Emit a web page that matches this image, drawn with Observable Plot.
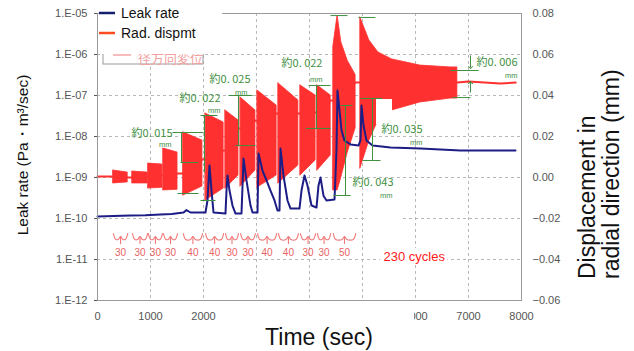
<!DOCTYPE html>
<html><head><meta charset="utf-8">
<script src="https://cdn.jsdelivr.net/npm/d3@7"></script>
<script src="https://cdn.jsdelivr.net/npm/@observablehq/plot@0.6"></script>
<style>body{margin:0;background:#fff;}#chart{width:634px;height:351px;}</style>
</head><body><div id="chart"></div>
<script>
// ---------- data ----------
const timeTicks = [0, 1000, 2000, 3000, 4000, 5000, 6000, 7000, 8000];
const leakTicks = [1e-12, 1e-11, 1e-10, 1e-9, 1e-8, 1e-7, 1e-6, 1e-5];
const dispTicks = [-0.06, -0.04, -0.02, 0, 0.02, 0.04, 0.06, 0.08];

// leak rate [time s, Pa·m3/s]
const leakRate = [
  [0,1.12e-10],[300,1.15e-10],[623,1.18e-10],[900,1.2e-10],[1189,1.25e-10],[1400,1.28e-10],
  [1623,1.4e-10],[1679,1.6e-10],[1755,1.4e-10],[2038,1.4e-10],[2075,2.75e-10],[2113,1.96e-9],
  [2151,4.8e-10],[2189,1.4e-10],[2415,1.32e-10],[2434,4.8e-10],[2453,1.12e-9],[2491,4.8e-10],
  [2547,2.07e-10],[2604,1.32e-10],[2717,1.32e-10],[2755,2.9e-9],[2811,8.5e-10],[2887,2.07e-10],
  [2925,1.4e-10],[3019,1.4e-10],[3038,3.85e-9],[3113,1.48e-9],[3189,8.5e-10],[3264,4.8e-10],
  [3340,2.75e-10],[3396,1.57e-10],[3434,1.57e-10],[3453,5.1e-9],[3509,1.12e-9],[3585,2.75e-10],
  [3642,1.75e-10],[3811,1.75e-10],[3849,4.8e-10],[3906,1.12e-9],[3962,6.4e-10],[4038,2.07e-10],
  [4132,1.85e-10],[4170,6.4e-10],[4208,1.0e-9],[4264,3.6e-10],[4321,2.75e-10],[4472,2.9e-10],
  [4509,4.56e-9],[4528,1.32e-7],[4566,4.3e-8],[4604,1.4e-8],[4660,8.0e-9],[4774,6.4e-9],
  [4925,6.0e-9],[4962,8.0e-9],[4981,5.7e-8],[5019,1.85e-8],[5075,8.0e-9],[5189,6.0e-9],
  [5528,5.4e-9],[6094,5.1e-9],[6849,4.56e-9],[7887,4.56e-9]
];

// cyclic loading bursts
const burstStart  = [300, 660, 960, 1245, 1620, 2040, 2415, 2700, 3020, 3415, 3830, 4150, 4450, 4960];
const burstEnd    = [570, 945, 1225, 1510, 1980, 2380, 2660, 2980, 3380, 3790, 4115, 4400, 4870, 6790];
const burstCycles = [30, 30, 30, 30, 40, 40, 30, 30, 40, 40, 30, 30, 50, 230];

// radial displacement envelope [burst, time s, low mm, high mm]
const radEnvelope = [
  [1,300,-0.0029,0.0034],[1,570,-0.0024,0.0024],
  [2,660,-0.0029,0.0029],[2,945,-0.0029,0.0024],
  [3,960,-0.0054,0.0068],[3,1225,-0.0050,0.0063],
  [4,1245,-0.0063,0.0141],[4,1510,-0.0060,0.0122],
  [5,1620,-0.0088,0.0220],[5,1980,-0.0044,0.0180],
  [6,2040,-0.0112,0.0312],[6,2380,-0.0054,0.0268],
  [7,2415,-0.0054,0.0327],[7,2660,0.0010,0.0278],
  [8,2700,-0.0044,0.0390],[8,2980,0.0034,0.0327],
  [9,3020,-0.0049,0.0424],[9,3380,0.0010,0.0351],
  [10,3415,-0.0029,0.0459],[10,3790,0.0059,0.0376],
  [11,3830,0.0010,0.0449],[11,4115,0.0083,0.0400],
  [12,4150,0.0034,0.0449],[12,4400,0.0107,0.0400],
  [13,4450,-0.0063,0.0640],[13,4530,-0.0063,0.0790],[13,4600,0.0000,0.0660],[13,4720,0.0120,0.0570],[13,4870,0.0240,0.0500],
  [14,4960,0.0044,0.0780],[14,5130,0.0180,0.0668],[14,5300,0.0278,0.0610],[14,5560,0.0327,0.0576],
  [14,6090,0.0366,0.0546],[14,6660,0.0385,0.0537],[14,6790,0.0385,0.0537]
];
// radial displacement between bursts [time s, mm]
const radMean = [
  [0,0.0005],[300,0.0005],[570,0.0],[660,0.0],[945,0.0005],[960,0.0005],[1225,0.0010],[1245,0.0010],
  [1510,0.0020],[1620,0.0020],[1980,0.0088],[2040,0.0088],[2380,0.0132],[2415,0.0132],[2660,0.0239],
  [2700,0.0239],[2980,0.0278],[3020,0.0278],[3380,0.0312],[3415,0.0312],[3790,0.0312],[3830,0.0312],
  [4115,0.0317],[4150,0.0317],[4400,0.0376],[4450,0.0376],[4870,0.0463],[4960,0.0463],[6790,0.0463],
  [7000,0.0468],[7300,0.0463],[7600,0.0458],[7890,0.0463]
];

// green amplitude notes [text, time, leak-axis value]
const noteLabels = [
  ["約0. 015",1415,1.18e-8],["約0. 022",2321,8.4e-8],["約0. 025",2887,2.5e-7],["約0. 022",4245,5.9e-7],
  ["約0. 043",5585,7.5e-10],["約0. 035",6132,1.45e-8],["約0. 006",7925,6.4e-7]
];
const noteUnits = [
  [1396,6.2e-9],[2321,4.2e-8],[2830,1.2e-7],[4245,2.5e-7],[5566,3.7e-10],[6132,7.2e-9],[7925,3.0e-7]
];
const noteLinks = [
  [1585,1.25e-8,1585,2.32e-9],[1415,1.25e-8,2000,1.25e-8],[1566,2.32e-9,1906,2.32e-9],[1509,4.07e-10,1906,4.07e-10],
  [2019,3.25e-8,2019,1.32e-9],[1943,3.25e-8,2264,3.25e-8],[1943,2.75e-10,2226,2.75e-10],
  [2660,1e-7,2660,6e-9],[2472,1e-7,2925,1e-7],[2604,6e-9,2981,6e-9],
  [4132,1.75e-7,4132,1.57e-8],[3981,1.75e-7,4396,1.75e-7],[3925,1.57e-8,4396,1.57e-8],
  [4396,8.9e-6,4717,8.9e-6],[4925,8.0e-6,5245,8.0e-6],
  [4679,5.7e-8,4679,3.64e-10],[4453,3.64e-10,4774,3.64e-10],[4585,5.7e-8,4811,5.7e-8],
  [5189,8.45e-8,5189,2.6e-9],[4962,8.45e-8,5377,8.45e-8],[5000,2.6e-9,5340,2.6e-9],
  [6660,4.07e-7,7189,4.07e-7],[6698,8.9e-8,7038,8.9e-8]
];
const noteArrows = [[7038,9.46e-7,7038,4.82e-7],[7038,1.18e-7,7038,2.07e-7]];

// ---------- helpers ----------
const toLeak = d => Math.pow(10, -9 + 50 * d);
const fmtDisp = v => { const d = Math.round((Math.log10(v) + 9) / 50 * 100) / 100;
  return d === 0 ? "0.00" : (d < 0 ? "\u2212" + Math.abs(d).toFixed(2) : d.toFixed(2)); };
const fmtLeak = v => "1.E-" + String(-Math.round(Math.log10(v))).padStart(2, "0");

const RED = "#ff3030", NAVY = "#1d1d86", GREEN = "#3f8f3f", GRID = "#b8b8b8", AX = "#555";

const env = radEnvelope.map(([b, t, lo, hi]) => ({b, t, lo: toLeak(lo), hi: toLeak(hi)}));
const mean = radMean.map(([t, d]) => ({t, v: toLeak(d)}));
const leak = leakRate.map(([t, v]) => ({t, v}));

// brace levels on the leak axis (below the curves)
const bUp = 4.3e-11, bMid = 3.08e-11, bJoin = 3.64e-11, bStem = 2.32e-11, bLab = 1.48e-11;
const braceRows = [], braceStems = [], braceLabels = [];
for (let i = 0; i < 13; i++) {
  const s = burstStart[i], e = burstEnd[i], m = (s + e) / 2, k = Math.min(45, (e - s) / 6);
  [[s, bUp], [s + k, bMid], [m - k, bMid], [m, bJoin], [m + k, bMid], [e - k, bMid], [e, bUp]]
    .forEach(([t, v]) => braceRows.push({i, t, v}));
  braceStems.push({t: m});
  braceLabels.push({t: m, text: String(burstCycles[i])});
}

const whiteRects = [
  {x1: 5264, x2: 5566, y1: 1.96e-8, y2: 7.98e-8},
  {x1: 5038, x2: 5717, y1: 1.86e-11, y2: 3.07e-10},
  {x1: 5340, x2: 6604, y1: 7.4e-12, y2: 1.86e-11}
];
const labelCover = [{x1: 2415, x2: 5981, y1: 1.86e-13, y2: 7.98e-13}];

const plot = Plot.plot({
  width: 634, height: 351,
  marginLeft: 97, marginRight: 113, marginTop: 13, marginBottom: 51,
  style: {fontFamily: "'Liberation Sans', Arial, sans-serif", fontSize: "11px", background: "#fff"},
  x: {domain: [0, 8000], axis: null},
  y: {type: "log", domain: [1e-12, 1e-5], axis: null},
  marks: [
    Plot.gridY(leakTicks.slice(1, -1), {stroke: GRID, strokeOpacity: 1, strokeDasharray: "3,3"}),
    Plot.gridX(timeTicks.slice(1, -1), {stroke: GRID, strokeOpacity: 1, strokeDasharray: "3,3"}),
    Plot.line(mean, {x: "t", y: "v", stroke: RED, strokeWidth: 2}),
    Plot.areaY(env, {x: "t", y1: "lo", y2: "hi", z: "b", fill: RED, stroke: RED, strokeWidth: 0.8}),
    Plot.line(leak, {x: "t", y: "v", stroke: NAVY, strokeWidth: 2}),
    Plot.link(noteLinks, {x1: d => d[0], y1: d => d[1], x2: d => d[2], y2: d => d[3], stroke: GREEN, strokeWidth: 1}),
    Plot.link(noteArrows, {x1: d => d[0], y1: d => d[1], x2: d => d[2], y2: d => d[3], stroke: GREEN, strokeWidth: 1, markerEnd: "arrow"}),
    Plot.line(braceRows, {x: "t", y: "v", z: "i", curve: "catmull-rom", stroke: "#f07878", strokeWidth: 1.1}),
    Plot.ruleX(braceStems, {x: "t", y1: bJoin, y2: bStem, stroke: "#f07878", strokeWidth: 1.1}),
    Plot.text(braceLabels, {x: "t", y: bLab, text: "text", fill: "#e86464", fontSize: 10}),
    Plot.rect(whiteRects, {x1: "x1", x2: "x2", y1: "y1", y2: "y2", fill: "#fff"}),
    Plot.text(["230 cycles"], {x: burstStart[13] + 436, y: 1.18e-11, text: d => d, textAnchor: "start", fill: "#ff1a1a", fontSize: 13}),
    Plot.text(noteLabels, {x: d => d[1], y: d => d[2], text: d => d[0], textAnchor: "end", fill: GREEN,
      fontSize: 11, fontFamily: "'Noto Sans CJK JP', sans-serif"}),
    Plot.text(noteUnits, {x: d => d[0], y: d => d[1], text: () => "mm", textAnchor: "end", fill: GREEN, fontSize: 7.5}),
    Plot.frame({stroke: "#9a9a9a"}),
    Plot.axisY(leakTicks, {anchor: "left", tickFormat: fmtLeak, tickSize: 3, tickPadding: 7, fontSize: 11, color: AX, label: null}),
    Plot.axisY(dispTicks.map(toLeak), {anchor: "right", tickFormat: fmtDisp, tickSize: 0, tickPadding: 11, fontSize: 11, color: AX, label: null}),
    Plot.axisX(timeTicks, {tickSize: 0, tickPadding: 12, fontSize: 11, color: AX, label: null, tickFormat: d => String(d)}),
    Plot.rect(labelCover, {x1: "x1", x2: "x2", y1: "y1", y2: "y2", fill: "#fff"})
  ]
});
document.getElementById("chart").appendChild(plot);

// ---------- legend & titles ----------
const svg = d3.select(plot);
const g = svg.append("g").attr("text-anchor", "start");
g.append("rect").attr("x", 103).attr("y", 40).attr("width", 100).attr("height", 24)
  .attr("fill", "#fff").attr("stroke", "#9a9a9a");
g.append("line").attr("x1", 113).attr("x2", 131).attr("y1", 55).attr("y2", 55)
  .attr("stroke", "#f5a5a5").attr("stroke-width", 1.5);
g.append("text").attr("x", 138).attr("y", 63).attr("text-anchor", "start").text("径方向変位")
  .attr("font-family", "'Noto Sans CJK JP', sans-serif").attr("font-size", 13).attr("fill", "#f2a0a0");
g.append("rect").attr("x", 99).attr("y", 0).attr("width", 123).attr("height", 54).attr("fill", "#fff");
const legendItems = [["Leak rate", "#14206e", 13], ["Rad. dispmt", "#ff4b1f", 33]];
legendItems.forEach(([label, color, y]) => {
  g.append("line").attr("x1", 99).attr("x2", 115).attr("y1", y).attr("y2", y)
    .attr("stroke", color).attr("stroke-width", 2.5);
  g.append("text").attr("x", 121).attr("y", y).attr("dy", "0.35em").attr("text-anchor", "start").text(label)
    .attr("font-family", "'Liberation Sans', Arial, sans-serif").attr("font-size", 14).attr("fill", "#111");
});
const titleFont = "'Liberation Sans', Arial, sans-serif";
svg.append("text").attr("transform", "translate(28,155) rotate(-90)").attr("text-anchor", "middle")
  .attr("font-family", titleFont).attr("font-size", 15.5).attr("fill", "#111").text("Leak rate (Pa・m³/sec)");
svg.append("text").attr("transform", "translate(595,279) rotate(-90)").attr("text-anchor", "start")
  .attr("font-family", titleFont).attr("font-size", 23).attr("fill", "#111").text("Displacement in");
svg.append("text").attr("transform", "translate(619,279) rotate(-90)").attr("text-anchor", "start")
  .attr("font-family", titleFont).attr("font-size", 23).attr("fill", "#111").text("radial direction (mm)");
svg.append("text").attr("x", 319).attr("y", 345).attr("text-anchor", "middle")
  .attr("font-family", titleFont).attr("font-size", 23).attr("fill", "#111").text("Time (sec)");
</script></body></html>
